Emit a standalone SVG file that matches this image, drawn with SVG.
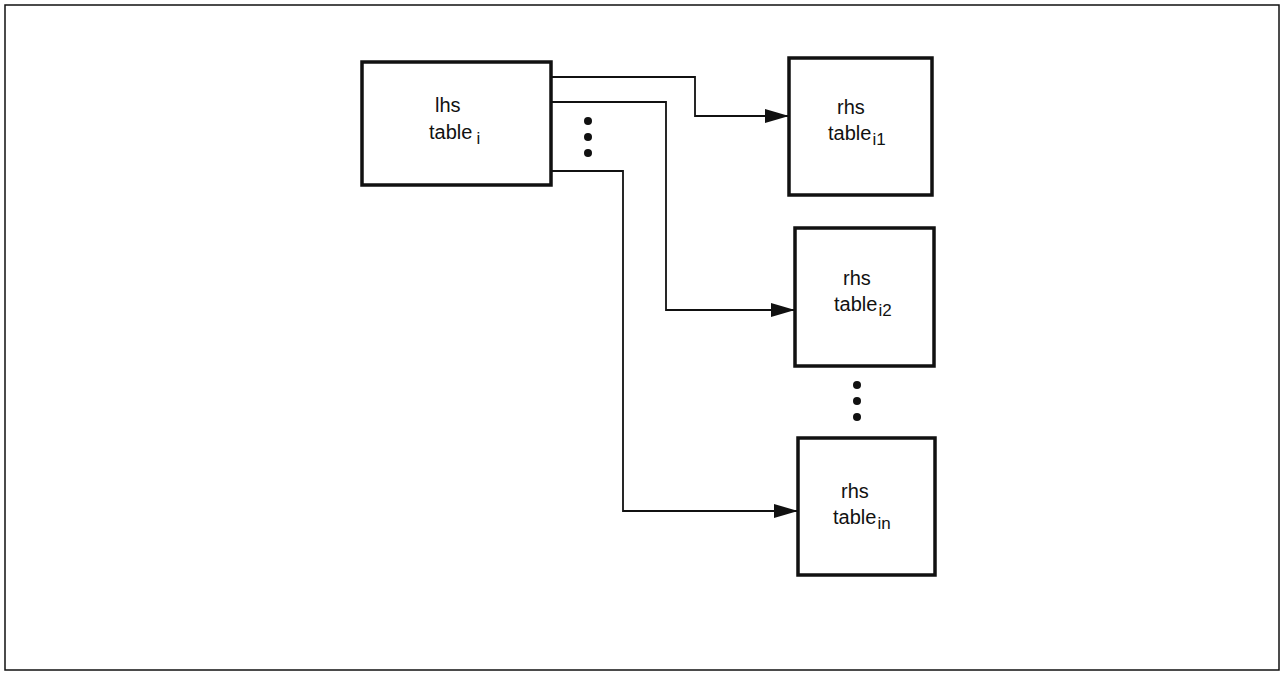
<svg xmlns="http://www.w3.org/2000/svg" width="1282" height="673" viewBox="0 0 1282 673">
<style>
.box{fill:#fff;stroke:#111;stroke-width:3.5}
.ln{fill:none;stroke:#111;stroke-width:1.8}
text{font-family:"Liberation Sans",Arial,sans-serif;font-size:20px;fill:#111}
.sub{font-size:17px}
.dot{fill:#111}
</style>
<defs>
<marker id="arr" markerWidth="24" markerHeight="14" refX="24" refY="7" orient="auto" markerUnits="userSpaceOnUse">
<path d="M0,0 L24,7 L0,14 Z" fill="#111"/>
</marker>
</defs>
<rect x="5" y="5" width="1274" height="665" fill="#fff" stroke="#111" stroke-width="1.5"/>
<g id="connectors">
<polyline class="ln" points="551,77 695,77 695,116 789,116" marker-end="url(#arr)"/>
<polyline class="ln" points="551,102 666,102 666,310 795,310" marker-end="url(#arr)"/>
<polyline class="ln" points="551,171 623,171 623,511 798,511" marker-end="url(#arr)"/>
</g>
<g id="lhs">
<rect class="box" x="362" y="62" width="189" height="123"/>
<text x="435" y="112">lhs</text>
<text x="429" y="139">table<tspan class="sub" dx="4" dy="5">i</tspan></text>
</g>
<g id="dots1">
<circle class="dot" cx="588" cy="121" r="4"/>
<circle class="dot" cx="588" cy="137" r="4"/>
<circle class="dot" cx="588" cy="153" r="4"/>
</g>
<g id="rhs1">
<rect class="box" x="789" y="58" width="143" height="137"/>
<text x="837" y="114">rhs</text>
<text x="828" y="140">table<tspan class="sub" dx="1" dy="5">i1</tspan></text>
</g>
<g id="rhs2">
<rect class="box" x="795" y="228" width="139" height="138"/>
<text x="843" y="285">rhs</text>
<text x="834" y="311">table<tspan class="sub" dx="1" dy="5">i2</tspan></text>
</g>
<g id="dots2">
<circle class="dot" cx="857" cy="385" r="4"/>
<circle class="dot" cx="857" cy="401" r="4"/>
<circle class="dot" cx="857" cy="417" r="4"/>
</g>
<g id="rhsn">
<rect class="box" x="798" y="438" width="137" height="137"/>
<text x="841" y="498">rhs</text>
<text x="833" y="524">table<tspan class="sub" dx="1" dy="5">in</tspan></text>
</g>
</svg>
